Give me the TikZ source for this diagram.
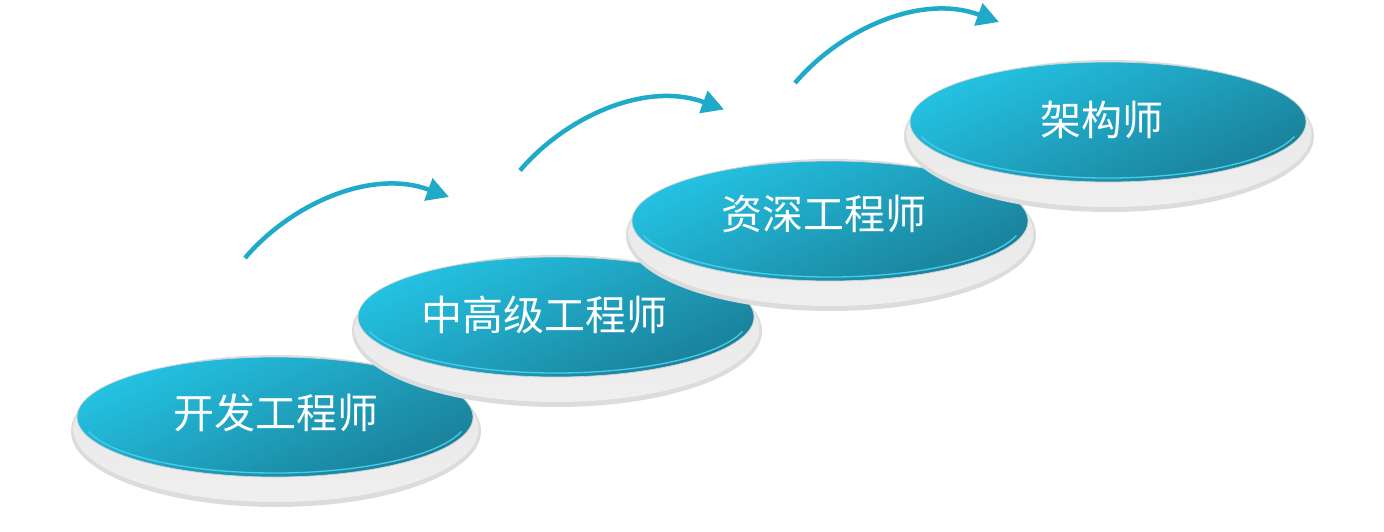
\documentclass[tikz,border=0pt]{standalone}
\usepackage{fontspec}
\newfontfamily\cjk{Noto Sans CJK SC}
\usetikzlibrary{arrows.meta}
\definecolor{tealA}{HTML}{24C3E4}
\definecolor{tealB}{HTML}{1A7F98}
\definecolor{arrowc}{HTML}{1FAACA}
\definecolor{hlc}{HTML}{45CDEA}
\definecolor{rimc}{HTML}{DCDCDC}
\definecolor{bandc}{HTML}{EFEFEF}
\tikzset{
  disclabel/.style={font=\cjk\fontsize{41}{41}\selectfont, text=white, inner sep=0pt, anchor=center},
  steparrow/.style={draw=arrowc, line width=4.5pt, -{Triangle[length=22pt,width=23pt]}},
}
\newcommand{\mydisc}[2]{%
  \fill[rimc] (#1+1,#2+14) ellipse [x radius=205pt, y radius=76pt];
  \shade[top color=gray!20, middle color=white, bottom color=bandc] (#1+1,#2+12) ellipse [x radius=202.5pt, y radius=73pt];
  \shade[top color=tealA, bottom color=tealB, shading angle=25, draw=gray!35, line width=0.7pt] (#1,#2) ellipse [x radius=198pt, y radius=60pt];
  \draw[hlc, line width=1.3pt] (#1,#2) ++(195:193pt and 56pt) arc[start angle=195, end angle=345, x radius=193pt, y radius=56pt];
}
\begin{document}
\begin{tikzpicture}[x=1pt, y=-1pt]
\useasboundingbox[fill=white] (0,0) rectangle (1384,532);
% discs
\mydisc{275}{417}
\node[disclabel] (d1) at (276,413) {开发工程师};
\mydisc{556}{317}
\node[disclabel] (d2) at (544,315) {中高级工程师};
\mydisc{830}{221}
\node[disclabel] (d3) at (824,214) {资深工程师};
\mydisc{1108}{122}
\node[disclabel] (d4) at (1102,120) {架构师};
% arrows
\coordinate (a1s) at (245,258);
\coordinate (a1e) at (449,197);
\coordinate (a2s) at (520,170.5);
\coordinate (a2e) at (724,109.5);
\coordinate (a3s) at (795,83);
\coordinate (a3e) at (999,22);
\draw[steparrow] (a1s) .. controls (290,205) and (370,168) .. (a1e);
\draw[steparrow] (a2s) .. controls (565,117.5) and (645,80.5) .. (a2e);
\draw[steparrow] (a3s) .. controls (840,30) and (920,-7) .. (a3e);
\end{tikzpicture}
\end{document}
